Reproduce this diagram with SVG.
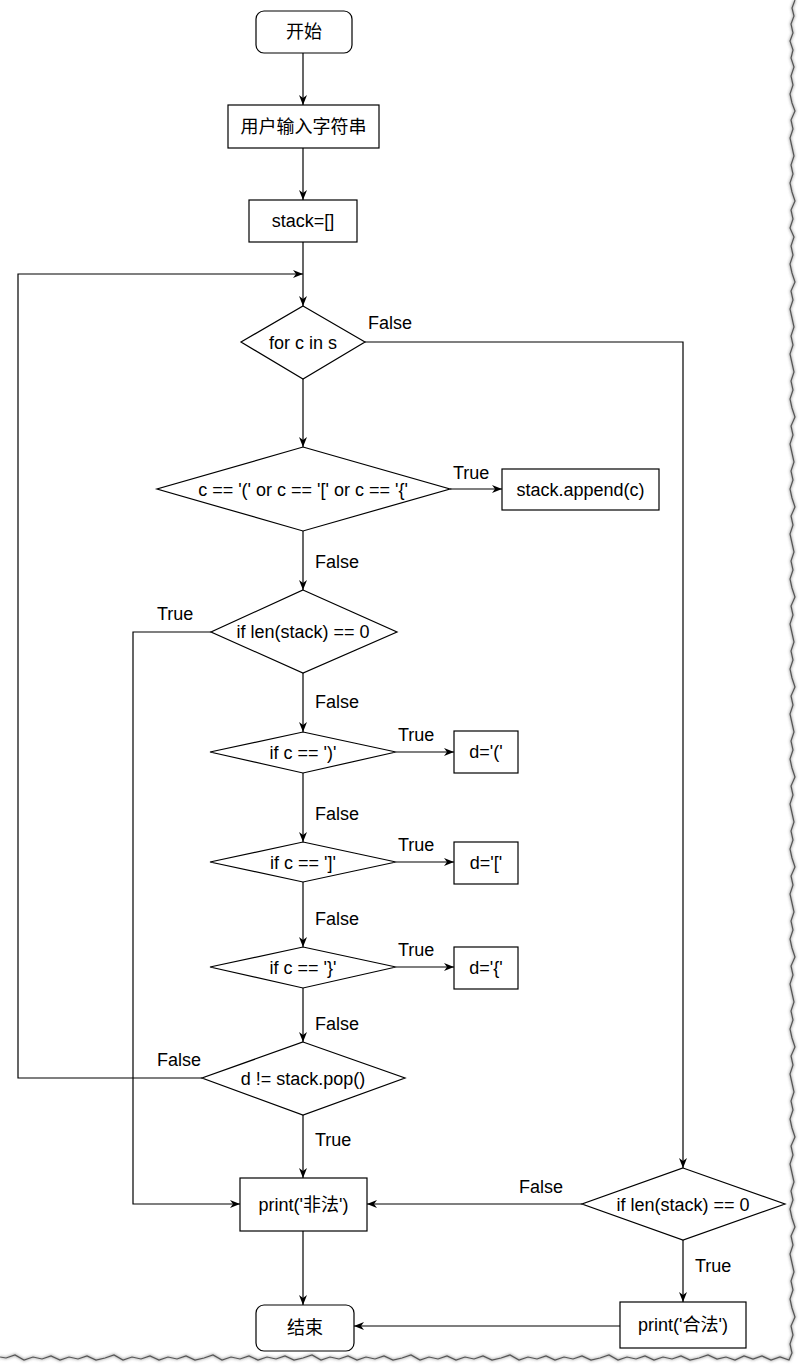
<svg xmlns="http://www.w3.org/2000/svg" width="800" height="1366" viewBox="0 0 800 1366">
<defs>
<style>
.n{fill:#ffffff;stroke:#000000;stroke-width:1.2}
.t{font-family:"Liberation Sans","Noto Sans CJK SC",sans-serif;font-size:18px;fill:#000000;text-anchor:middle;dominant-baseline:central}
.l{font-family:"Liberation Sans",sans-serif;font-size:18px;fill:#000000}
.c{fill:none;stroke:#000000;stroke-width:1.2}
.e{fill:none;stroke:#555555;stroke-width:1.2}
</style>
<marker id="a" viewBox="0 0 10 8" refX="10" refY="4" markerWidth="10" markerHeight="8" markerUnits="userSpaceOnUse" orient="auto">
<path d="M0,0 L10,4 L0,8 L3,4 z" fill="#000000"/>
</marker>
<filter id="sh" x="-5%" y="-5%" width="110%" height="110%">
<feGaussianBlur stdDeviation="1.5"/>
</filter>
</defs>
<rect width="800" height="1366" fill="#ffffff"/>
<g id="torn-edge">
<path class="e" filter="url(#sh)" stroke="#999" d="M795,0 L792,8 L794,16 L791,24 L793,33 L790,41 L793,50 L791,58 L794,67 L791,76 L793,85 L790,94 L792,103 L795,111 L791,120 L793,129 L790,138 L792,147 L794,156 L791,165 L793,174 L790,183 L792,192 L795,201 L791,210 L793,219 L790,228 L794,237 L791,246 L793,255 L790,264 L792,273 L795,282 L791,291 L793,300 L790,309 L792,318 L794,327 L791,336 L793,345 L790,354 L792,363 L794,372 L791,381 L793,390 L790,399 L792,408 L795,417 L791,426 L793,435 L790,444 L792,453 L794,462 L791,471 L793,480 L790,489 L792,498 L795,507 L791,516 L793,525 L790,534 L792,543 L794,552 L791,561 L793,570 L790,579 L792,588 L795,597 L791,606 L793,615 L790,624 L792,633 L794,642 L791,651 L793,660 L790,669 L792,678 L795,687 L791,696 L793,705 L790,714 L792,723 L794,732 L791,741 L793,750 L790,759 L792,768 L795,777 L791,786 L793,795 L790,804 L792,813 L794,822 L791,831 L793,840 L790,849 L792,858 L795,867 L791,876 L793,885 L790,894 L792,903 L794,912 L791,921 L793,930 L790,939 L792,948 L795,957 L791,966 L793,975 L790,984 L792,993 L794,1002 L791,1011 L793,1020 L790,1029 L792,1038 L795,1047 L791,1056 L793,1065 L790,1074 L792,1083 L794,1092 L791,1101 L793,1110 L790,1119 L792,1128 L795,1137 L791,1146 L793,1155 L790,1164 L792,1173 L794,1182 L791,1191 L793,1200 L790,1209 L792,1218 L795,1227 L791,1236 L793,1245 L790,1254 L792,1263 L794,1272 L791,1281 L793,1290 L790,1299 L792,1308 L795,1317 L791,1326 L793,1335 L790,1344 L792,1353 L789,1360 L780,1357 L771,1360 L762,1356 L753,1359 L744,1356 L735,1360 L726,1357 L717,1359 L708,1355 L699,1358 L690,1360 L681,1356 L672,1359 L663,1357 L654,1360 L645,1356 L636,1359 L627,1357 L618,1360 L609,1355 L600,1358 L591,1360 L582,1356 L573,1359 L564,1357 L555,1360 L546,1356 L537,1359 L528,1357 L519,1360 L510,1355 L501,1358 L492,1360 L483,1356 L474,1359 L465,1357 L456,1360 L447,1356 L438,1359 L429,1357 L420,1360 L411,1355 L402,1358 L393,1360 L384,1356 L375,1359 L366,1357 L357,1360 L348,1356 L339,1359 L330,1357 L321,1360 L312,1355 L303,1358 L294,1360 L285,1356 L276,1359 L267,1357 L258,1360 L249,1356 L240,1359 L231,1357 L222,1360 L213,1355 L204,1358 L195,1360 L186,1356 L177,1359 L168,1357 L159,1360 L150,1356 L141,1359 L132,1357 L123,1360 L114,1355 L105,1358 L96,1360 L87,1356 L78,1359 L69,1357 L60,1360 L51,1356 L42,1359 L33,1357 L24,1360 L15,1355 L6,1358 L0,1357"/>
<path class="e" d="M795,0 L792,8 L794,16 L791,24 L793,33 L790,41 L793,50 L791,58 L794,67 L791,76 L793,85 L790,94 L792,103 L795,111 L791,120 L793,129 L790,138 L792,147 L794,156 L791,165 L793,174 L790,183 L792,192 L795,201 L791,210 L793,219 L790,228 L794,237 L791,246 L793,255 L790,264 L792,273 L795,282 L791,291 L793,300 L790,309 L792,318 L794,327 L791,336 L793,345 L790,354 L792,363 L794,372 L791,381 L793,390 L790,399 L792,408 L795,417 L791,426 L793,435 L790,444 L792,453 L794,462 L791,471 L793,480 L790,489 L792,498 L795,507 L791,516 L793,525 L790,534 L792,543 L794,552 L791,561 L793,570 L790,579 L792,588 L795,597 L791,606 L793,615 L790,624 L792,633 L794,642 L791,651 L793,660 L790,669 L792,678 L795,687 L791,696 L793,705 L790,714 L792,723 L794,732 L791,741 L793,750 L790,759 L792,768 L795,777 L791,786 L793,795 L790,804 L792,813 L794,822 L791,831 L793,840 L790,849 L792,858 L795,867 L791,876 L793,885 L790,894 L792,903 L794,912 L791,921 L793,930 L790,939 L792,948 L795,957 L791,966 L793,975 L790,984 L792,993 L794,1002 L791,1011 L793,1020 L790,1029 L792,1038 L795,1047 L791,1056 L793,1065 L790,1074 L792,1083 L794,1092 L791,1101 L793,1110 L790,1119 L792,1128 L795,1137 L791,1146 L793,1155 L790,1164 L792,1173 L794,1182 L791,1191 L793,1200 L790,1209 L792,1218 L795,1227 L791,1236 L793,1245 L790,1254 L792,1263 L794,1272 L791,1281 L793,1290 L790,1299 L792,1308 L795,1317 L791,1326 L793,1335 L790,1344 L792,1353 L789,1360 L780,1357 L771,1360 L762,1356 L753,1359 L744,1356 L735,1360 L726,1357 L717,1359 L708,1355 L699,1358 L690,1360 L681,1356 L672,1359 L663,1357 L654,1360 L645,1356 L636,1359 L627,1357 L618,1360 L609,1355 L600,1358 L591,1360 L582,1356 L573,1359 L564,1357 L555,1360 L546,1356 L537,1359 L528,1357 L519,1360 L510,1355 L501,1358 L492,1360 L483,1356 L474,1359 L465,1357 L456,1360 L447,1356 L438,1359 L429,1357 L420,1360 L411,1355 L402,1358 L393,1360 L384,1356 L375,1359 L366,1357 L357,1360 L348,1356 L339,1359 L330,1357 L321,1360 L312,1355 L303,1358 L294,1360 L285,1356 L276,1359 L267,1357 L258,1360 L249,1356 L240,1359 L231,1357 L222,1360 L213,1355 L204,1358 L195,1360 L186,1356 L177,1359 L168,1357 L159,1360 L150,1356 L141,1359 L132,1357 L123,1360 L114,1355 L105,1358 L96,1360 L87,1356 L78,1359 L69,1357 L60,1360 L51,1356 L42,1359 L33,1357 L24,1360 L15,1355 L6,1358 L0,1357"/>
</g>
<g id="connectors">
<path class="c" marker-end="url(#a)" d="M303,53 L303,105"/>
<path class="c" marker-end="url(#a)" d="M303,148 L303,200"/>
<path class="c" marker-end="url(#a)" d="M303,242 L303,306"/>
<path class="c" marker-end="url(#a)" d="M202,1078 L18,1078 L18,274 L303,274"/>
<path class="c" marker-end="url(#a)" d="M365,342 L683,342 L683,1168"/>
<path class="c" marker-end="url(#a)" d="M303,379 L303,447"/>
<path class="c" marker-end="url(#a)" d="M450,489 L502,489"/>
<path class="c" marker-end="url(#a)" d="M303,531 L303,590"/>
<path class="c" marker-end="url(#a)" d="M211,632 L133,632 L133,1204 L240,1204"/>
<path class="c" marker-end="url(#a)" d="M303,673 L303,732"/>
<path class="c" marker-end="url(#a)" d="M396,752 L454,752"/>
<path class="c" marker-end="url(#a)" d="M303,773 L303,842"/>
<path class="c" marker-end="url(#a)" d="M396,862 L454,862"/>
<path class="c" marker-end="url(#a)" d="M303,882 L303,947"/>
<path class="c" marker-end="url(#a)" d="M396,967 L454,967"/>
<path class="c" marker-end="url(#a)" d="M303,988 L303,1042"/>
<path class="c" marker-end="url(#a)" d="M303,1115 L303,1178"/>
<path class="c" marker-end="url(#a)" d="M582,1204 L367,1204"/>
<path class="c" marker-end="url(#a)" d="M683,1240 L683,1302"/>
<path class="c" marker-end="url(#a)" d="M303,1231 L303,1305"/>
<path class="c" marker-end="url(#a)" d="M620,1326 L354,1326"/>
</g>
<g id="labels">
<text class="l" x="368" y="329">False</text>
<text class="l" x="453" y="479">True</text>
<text class="l" x="315" y="568">False</text>
<text class="l" x="157" y="620">True</text>
<text class="l" x="315" y="708">False</text>
<text class="l" x="398" y="741">True</text>
<text class="l" x="315" y="820">False</text>
<text class="l" x="398" y="851">True</text>
<text class="l" x="315" y="925">False</text>
<text class="l" x="398" y="956">True</text>
<text class="l" x="315" y="1030">False</text>
<text class="l" x="157" y="1066">False</text>
<text class="l" x="315" y="1146">True</text>
<text class="l" x="519" y="1193">False</text>
<text class="l" x="695" y="1272">True</text>
</g>
<g id="start"><rect class="n" x="256" y="11" width="96" height="42" rx="8"/><text class="t" x="304" y="32">开始</text></g>
<g id="input"><rect class="n" x="228" y="105" width="151" height="43"/><text class="t" x="303.5" y="126.5">用户输入字符串</text></g>
<g id="init"><rect class="n" x="249" y="200" width="108" height="42"/><text class="t" x="303" y="221">stack=[]</text></g>
<g id="for"><polygon class="n" points="303,306 365,342 303,379 241,342"/><text class="t" x="303" y="343">for c in s</text></g>
<g id="isopen"><polygon class="n" points="303,447 450,489 303,531 157,489"/><text class="t" x="303" y="490">c == '(' or c == '[' or c == '{'</text></g>
<g id="append"><rect class="n" x="502" y="469" width="157" height="41"/><text class="t" x="580.5" y="490">stack.append(c)</text></g>
<g id="empty1"><polygon class="n" points="303,590 397,632 303,673 211,632"/><text class="t" x="303" y="632">if len(stack) == 0</text></g>
<g id="paren"><polygon class="n" points="303,732 396,752 303,773 210,752"/><text class="t" x="303" y="753">if c == ')'</text></g>
<g id="dparen"><rect class="n" x="454" y="731" width="64" height="42"/><text class="t" x="486" y="752">d='('</text></g>
<g id="bracket"><polygon class="n" points="303,842 396,862 303,882 210,862"/><text class="t" x="303" y="863">if c == ']'</text></g>
<g id="dbracket"><rect class="n" x="454" y="842" width="64" height="42"/><text class="t" x="486" y="863">d='['</text></g>
<g id="brace"><polygon class="n" points="303,947 396,967 303,988 210,967"/><text class="t" x="303" y="968">if c == '}'</text></g>
<g id="dbrace"><rect class="n" x="454" y="947" width="64" height="42"/><text class="t" x="486" y="968">d='{'</text></g>
<g id="pop"><polygon class="n" points="303,1042 405,1078 303,1115 202,1078"/><text class="t" x="303" y="1079">d != stack.pop()</text></g>
<g id="illegal"><rect class="n" x="240" y="1178" width="127" height="53"/><text class="t" x="303.5" y="1205">print('非法')</text></g>
<g id="empty2"><polygon class="n" points="683,1168 785,1204 683,1240 582,1204"/><text class="t" x="683" y="1205">if len(stack) == 0</text></g>
<g id="legal"><rect class="n" x="620" y="1302" width="126" height="46"/><text class="t" x="683" y="1325">print('合法')</text></g>
<g id="end"><rect class="n" x="256" y="1305" width="98" height="46" rx="8"/><text class="t" x="305" y="1328">结束</text></g>
</svg>
